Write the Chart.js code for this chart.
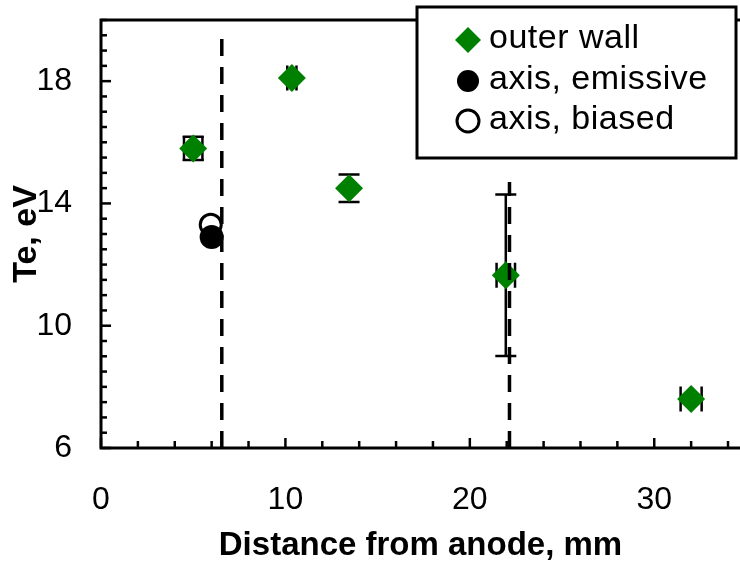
<!DOCTYPE html>
<html>
<head>
<meta charset="utf-8">
<script src="https://cdn.jsdelivr.net/npm/chart.js@4.4.1/dist/chart.umd.min.js"></script>
<style>
html, body { margin: 0; padding: 0; background: #fff; }
</style>
</head>
<body>
<canvas id="te-chart" width="740" height="566"></canvas>
<script>
// outer wall probe: position (mm), Te (eV) and error bars
var wallX = [5.0, 10.35, 13.45, 21.95, 32.0];
var wallTe = [15.8, 18.1, 14.5, 11.65, 7.6];
var wallXErr = [0.5, 0.25, 0, 0.5, 0.57];
var wallTeErr = [0.38, 0, 0.45, 2.64, 0];
// probes on the axis
var emissiveX = [6.0];
var emissiveTe = [12.9];
var biasedX = [5.95];
var biasedTe = [13.3];
// dashed vertical markers: x position, top value
var markX = [6.55, 22.15];
var markTop = [19.5, 14.7];
var xTickLabels = [0, 10, 20, 30];
var yTickLabels = [6, 10, 14, 18];
var seriesNames = ['outer wall', 'axis, emissive', 'axis, biased'];

var FONT = '"Liberation Sans", Arial, sans-serif';
var GREEN = '#008000';

function pts(xs, ys) {
  var out = [];
  for (var i = 0; i < xs.length; i++) out.push({x: xs[i], y: ys[i]});
  return out;
}

var datasets = [
  {
    label: seriesNames[0], data: pts(wallX, wallTe), order: 1,
    pointStyle: 'rectRot', pointRadius: 14, pointBorderWidth: 0,
    backgroundColor: GREEN, borderColor: GREEN
  },
  {
    label: seriesNames[1], data: pts(emissiveX, emissiveTe), order: 2,
    pointStyle: 'circle', pointRadius: 12, pointBorderWidth: 0,
    backgroundColor: '#000', borderColor: '#000'
  },
  {
    label: seriesNames[2], data: pts(biasedX, biasedTe), order: 3,
    pointStyle: 'circle', pointRadius: 10.5, pointBorderWidth: 3,
    backgroundColor: '#fff', borderColor: '#000'
  }
];
for (var m = 0; m < markX.length; m++) {
  datasets.push({
    label: 'mark' + m, type: 'line', order: 0,
    data: [{x: markX[m], y: 6}, {x: markX[m], y: markTop[m]}],
    borderColor: '#000', borderWidth: 3.5, borderDash: [17, 11],
    pointRadius: 0, fill: false
  });
}

function noPad(s) {
  s.paddingTop = 0; s.paddingBottom = 0; s.paddingLeft = 0; s.paddingRight = 0;
}

var framePlugin = {
  id: 'frame',
  beforeDatasetsDraw: function(chart) {
    var ctx = chart.ctx, a = chart.chartArea;
    var xs = chart.scales.x, ys = chart.scales.y;
    ctx.save();
    ctx.strokeStyle = '#000';
    ctx.lineWidth = 2.5;
    xs.ticks.forEach(function(t) {
      var px = xs.getPixelForValue(t.value);
      var len = xTickLabels.indexOf(t.value) >= 0 ? 10 : 7;
      ctx.beginPath(); ctx.moveTo(px, a.bottom); ctx.lineTo(px, a.bottom - len); ctx.stroke();
    });
    ys.ticks.forEach(function(t) {
      var py = ys.getPixelForValue(t.value);
      var len = yTickLabels.indexOf(t.value) >= 0 ? 10 : 6;
      ctx.beginPath(); ctx.moveTo(a.left, py); ctx.lineTo(a.left + len, py); ctx.stroke();
    });
    ctx.lineWidth = 3;
    ctx.beginPath();
    ctx.moveTo(a.right, a.top); ctx.lineTo(a.left, a.top);
    ctx.lineTo(a.left, a.bottom); ctx.lineTo(a.right, a.bottom);
    ctx.stroke();

    // error bars of the outer wall points
    ctx.lineWidth = 2.5;
    for (var i = 0; i < wallX.length; i++) {
      var cx = xs.getPixelForValue(wallX[i]), cy = ys.getPixelForValue(wallTe[i]);
      if (wallXErr[i] > 0) {
        var x0 = xs.getPixelForValue(wallX[i] - wallXErr[i]);
        var x1 = xs.getPixelForValue(wallX[i] + wallXErr[i]);
        ctx.beginPath();
        ctx.moveTo(x0, cy); ctx.lineTo(x1, cy);
        ctx.moveTo(x0, cy - 12.5); ctx.lineTo(x0, cy + 12.5);
        ctx.moveTo(x1, cy - 12.5); ctx.lineTo(x1, cy + 12.5);
        ctx.stroke();
      }
      if (wallTeErr[i] > 0) {
        var y0 = ys.getPixelForValue(wallTe[i] - wallTeErr[i]);
        var y1 = ys.getPixelForValue(wallTe[i] + wallTeErr[i]);
        ctx.beginPath();
        ctx.moveTo(cx, y0); ctx.lineTo(cx, y1);
        ctx.moveTo(cx - 10.5, y0); ctx.lineTo(cx + 10.5, y0);
        ctx.moveTo(cx - 10.5, y1); ctx.lineTo(cx + 10.5, y1);
        ctx.stroke();
      }
    }
    ctx.restore();
  },
  afterDraw: function(chart) {
    var ctx = chart.ctx;
    var bx = 417, by = 7, bw = 319, bh = 151;
    ctx.save();
    ctx.fillStyle = '#fff';
    ctx.fillRect(bx, by, bw, bh);
    ctx.strokeStyle = '#000';
    ctx.lineWidth = 3;
    ctx.strokeRect(bx, by, bw, bh);
    var rows = [40, 81, 121];
    for (var i = 0; i < 3; i++) {
      var ds = chart.data.datasets[i];
      ctx.fillStyle = ds.backgroundColor;
      ctx.strokeStyle = ds.borderColor;
      ctx.lineWidth = ds.pointBorderWidth;
      Chart.helpers.drawPoint(ctx, {
        pointStyle: ds.pointStyle,
        radius: i === 0 ? 13 : 11,
        rotation: 0,
        borderWidth: ds.pointBorderWidth
      }, 468, rows[i]);
      ctx.fillStyle = '#000';
      ctx.font = '34px ' + FONT;
      ctx.textBaseline = 'middle';
      ctx.textAlign = 'left';
      ctx.letterSpacing = '0.5px';
      ctx.fillText(ds.label, 489, rows[i] - 1);
    }
    ctx.restore();
  }
};

new Chart(document.getElementById('te-chart'), {
  type: 'scatter',
  data: {datasets: datasets},
  options: {
    responsive: false,
    animation: false,
    layout: {autoPadding: false, padding: {top: 20, right: 0, left: 0, bottom: 0}},
    plugins: {legend: {display: false}, tooltip: {enabled: false}},
    scales: {
      x: {
        type: 'linear', min: 0, max: 34.65,
        grid: {display: false, drawTicks: true, tickLength: 33}, border: {display: false},
        ticks: {
          stepSize: 2, includeBounds: false, autoSkip: false, maxRotation: 0,
          padding: 0, color: '#000', font: {family: FONT, size: 32},
          callback: function(v) { return xTickLabels.indexOf(v) >= 0 ? String(v) : ''; }
        },
        title: {
          display: true, text: 'Distance from anode, mm', color: '#000',
          font: {family: FONT, size: 33, weight: 'bold'}, padding: {top: 0, bottom: 0}
        },
        afterFit: function(s) { s.height = 118; noPad(s); }
      },
      y: {
        min: 6, max: 20,
        grid: {display: false, drawTicks: true, tickLength: 29}, border: {display: false},
        ticks: {
          stepSize: 0.5, autoSkip: false,
          padding: 0, color: '#000', font: {family: FONT, size: 32},
          callback: function(v) { return yTickLabels.indexOf(v) >= 0 ? String(v) : ''; }
        },
        title: {
          display: true, text: 'Te, eV', color: '#000',
          font: {family: FONT, size: 34, weight: 'bold'}, padding: {top: 6, bottom: 0}
        },
        afterFit: function(s) { s.width = 101; noPad(s); }
      }
    }
  },
  plugins: [framePlugin]
});
</script>
</body>
</html>
